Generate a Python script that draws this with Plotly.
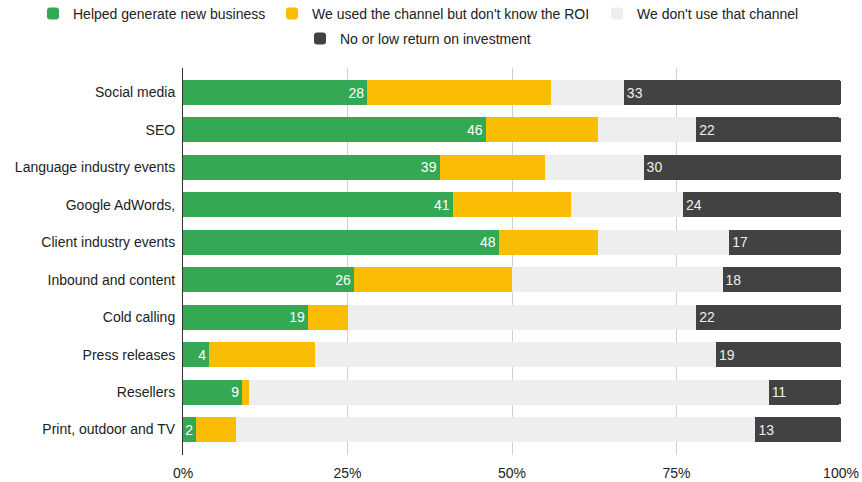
import plotly.graph_objects as go

# Marketing channels, top to bottom
channels = [
    "Social media", "SEO", "Language industry events", "Google AdWords,",
    "Client industry events", "Inbound and content", "Cold calling",
    "Press releases", "Resellers", "Print, outdoor and TV",
]

# Share of respondents per answer (percent)
helped_new_business = [28, 46, 39, 41, 48, 26, 19, 4, 9, 2]
used_unknown_roi = [28, 17, 16, 18, 15, 24, 6, 16, 1, 6]
not_used = [11, 15, 15, 17, 20, 32, 53, 61, 79, 79]
low_return = [33, 22, 30, 24, 17, 18, 22, 19, 11, 13]

series_names = [
    "Helped generate new business",
    "We used the channel but don't know the ROI",
    "We don't use that channel",
    "No or low return on investment",
]
series_colors = ["#34A853", "#FBBC04", "#EEEEEE", "#424242"]

x_ticks = [0, 25, 50, 75, 100]
x_tick_labels = ["0%", "25%", "50%", "75%", "100%"]

FONT = "Liberation Sans, Arial, sans-serif"
W, H = 862, 482

# one legend per series so the entries can sit in two rows of different lengths
legend_ids = ["legend", "legend2", "legend3", "legend4"]
legend_pos = [(33, 14), (272, 14), (597, 14), (300, 39)]  # left edge, row centre (px)

fig = go.Figure()

fig.add_trace(go.Bar(
    y=channels, x=helped_new_business, orientation="h",
    name=series_names[0], marker=dict(color=series_colors[0], line=dict(width=0)),
    text=helped_new_business, textposition="inside", insidetextanchor="end",
    textfont=dict(color="#ffffff", size=14, family=FONT),
    hoverinfo="skip", legend=legend_ids[0],
))
fig.add_trace(go.Bar(
    y=channels, x=used_unknown_roi, orientation="h",
    name=series_names[1], marker=dict(color=series_colors[1], line=dict(width=0)),
    hoverinfo="skip", legend=legend_ids[1],
))
fig.add_trace(go.Bar(
    y=channels, x=not_used, orientation="h",
    name=series_names[2], marker=dict(color=series_colors[2], line=dict(width=0)),
    hoverinfo="skip", legend=legend_ids[2],
))
fig.add_trace(go.Bar(
    y=channels, x=low_return, orientation="h",
    name=series_names[3], marker=dict(color=series_colors[3], line=dict(width=0)),
    text=low_return, textposition="inside", insidetextanchor="start",
    textfont=dict(color="#eeeeee", size=14, family=FONT),
    hoverinfo="skip", legend=legend_ids[3],
))

legend_layout = {}
for lid, (px, py) in zip(legend_ids, legend_pos):
    legend_layout[lid] = dict(
        orientation="h", xref="container", yref="container",
        x=px / W, xanchor="left", y=1 - py / H, yanchor="middle",
        font=dict(size=14, color="#222222"),
        bgcolor="rgba(0,0,0,0)", borderwidth=0,
    )

fig.update_layout(
    width=W, height=H,
    margin=dict(l=183, r=21, t=68, b=27, autoexpand=False),
    barmode="stack", bargap=0.332, barcornerradius=2,
    paper_bgcolor="white", plot_bgcolor="white",
    font=dict(family=FONT, size=14, color="#222222"),
    uniformtext=dict(minsize=14, mode="show"),
    showlegend=True,
    **legend_layout,
)

fig.update_xaxes(
    range=[0, 100], tickvals=x_ticks, ticktext=x_tick_labels,
    showgrid=True, gridcolor="#d0d0d0", gridwidth=1,
    zeroline=False, showline=False, ticks="",
    ticklabelstandoff=8, automargin=False,
    tickfont=dict(size=14, color="#222222"),
    fixedrange=True,
)
fig.update_yaxes(
    categoryorder="array", categoryarray=channels,
    range=[9.68, -0.655],
    showline=True, linecolor="#333333", linewidth=1,
    ticks="", ticklabelstandoff=4, automargin=False,
    tickfont=dict(size=14, color="#222222"),
    fixedrange=True,
)

fig.write_html("out.html")
